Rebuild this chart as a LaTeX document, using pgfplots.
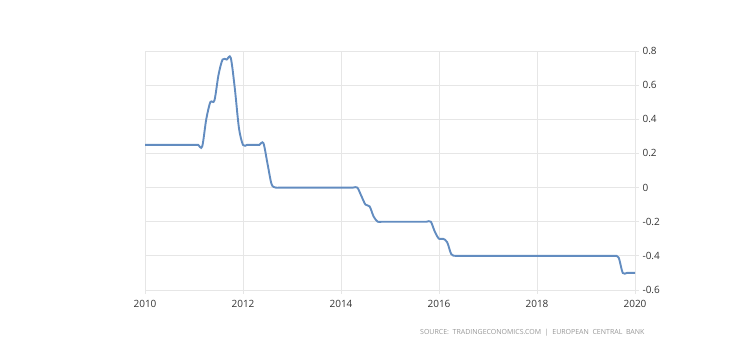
\documentclass[border=0pt]{standalone}
\usepackage{pgfplots}
\usepackage{pgfplotstable}
\pgfplotsset{compat=1.18}
\usepackage{fontspec}
\setmainfont{Open Sans}
\definecolor{linecol}{RGB}{98,140,192}
\definecolor{gridcol}{RGB}{230,230,230}
\definecolor{labcol}{RGB}{51,51,51}
\definecolor{srccol}{RGB}{150,150,150}
% month index (0 = Jan 2010), rate in percent
\pgfplotstableread{
m v
0 0.25
1 0.25
2 0.25
3 0.25
4 0.25
5 0.25
6 0.25
7 0.25
8 0.25
9 0.25
10 0.25
11 0.25
12 0.25
13 0.25
14 0.24
15 0.40
16 0.50
17 0.51
18 0.66
19 0.75
20 0.75
21 0.76
22 0.58
23 0.35
24 0.25
25 0.25
26 0.25
27 0.25
28 0.25
29 0.26
30 0.14
31 0.02
32 0
33 0
34 0
35 0
36 0
37 0
38 0
39 0
40 0
41 0
42 0
43 0
44 0
45 0
46 0
47 0
48 0
49 0
50 0
51 0
52 0
53 -0.05
54 -0.10
55 -0.11
56 -0.17
57 -0.20
58 -0.20
59 -0.20
60 -0.20
61 -0.20
62 -0.20
63 -0.20
64 -0.20
65 -0.20
66 -0.20
67 -0.20
68 -0.20
69 -0.20
70 -0.20
71 -0.26
72 -0.30
73 -0.30
74 -0.32
75 -0.39
76 -0.40
77 -0.40
78 -0.40
79 -0.40
80 -0.40
81 -0.40
82 -0.40
83 -0.40
84 -0.40
85 -0.40
86 -0.40
87 -0.40
88 -0.40
89 -0.40
90 -0.40
91 -0.40
92 -0.40
93 -0.40
94 -0.40
95 -0.40
96 -0.40
97 -0.40
98 -0.40
99 -0.40
100 -0.40
101 -0.40
102 -0.40
103 -0.40
104 -0.40
105 -0.40
106 -0.40
107 -0.40
108 -0.40
109 -0.40
110 -0.40
111 -0.40
112 -0.40
113 -0.40
114 -0.40
115 -0.40
116 -0.41
117 -0.50
118 -0.50
119 -0.50
120 -0.50
}\ratedata
\begin{document}
\begin{tikzpicture}[x=1pt,y=1pt]
\path[use as bounding box] (0,0) rectangle (740,362);
\begin{axis}[
  at={(145pt,72pt)}, anchor=south west,
  scale only axis, width=490pt, height=239pt,
  xmin=2010, xmax=2020, ymin=-0.6, ymax=0.8,
  xtick={2010,2012,...,2020}, ytick={-0.6,-0.4,...,0.8},
  axis y line*=right, axis x line*=bottom,
  axis line style={gridcol},
  grid=major, major grid style={gridcol, line width=0.8pt},
  tick style={gridcol, line width=0.8pt}, tick align=outside, major tick length=4pt,
  xticklabel style={/pgf/number format/1000 sep={}, font=\fontsize{10}{12}\selectfont, text=labcol, yshift=-3pt},
  yticklabel style={/pgf/number format/fixed, font=\fontsize{10}{12}\selectfont, text=labcol, anchor=west},
  /pgf/number format/assume math mode=true,
  scaled y ticks=false,
  clip=false,
]
\addplot[linecol, line width=1.9pt, smooth, tension=0.5] table[x expr=2010+\thisrow{m}/12, y=v] {\ratedata};
\end{axis}
\node[anchor=west, text=srccol, font=\fontsize{7}{8}\selectfont, inner sep=0pt] at (420,29) {SOURCE:\ \ TRADINGECONOMICS.COM\ \ |\ \ EUROPEAN\ \ CENTRAL\ \ BANK};
\end{tikzpicture}
\end{document}
